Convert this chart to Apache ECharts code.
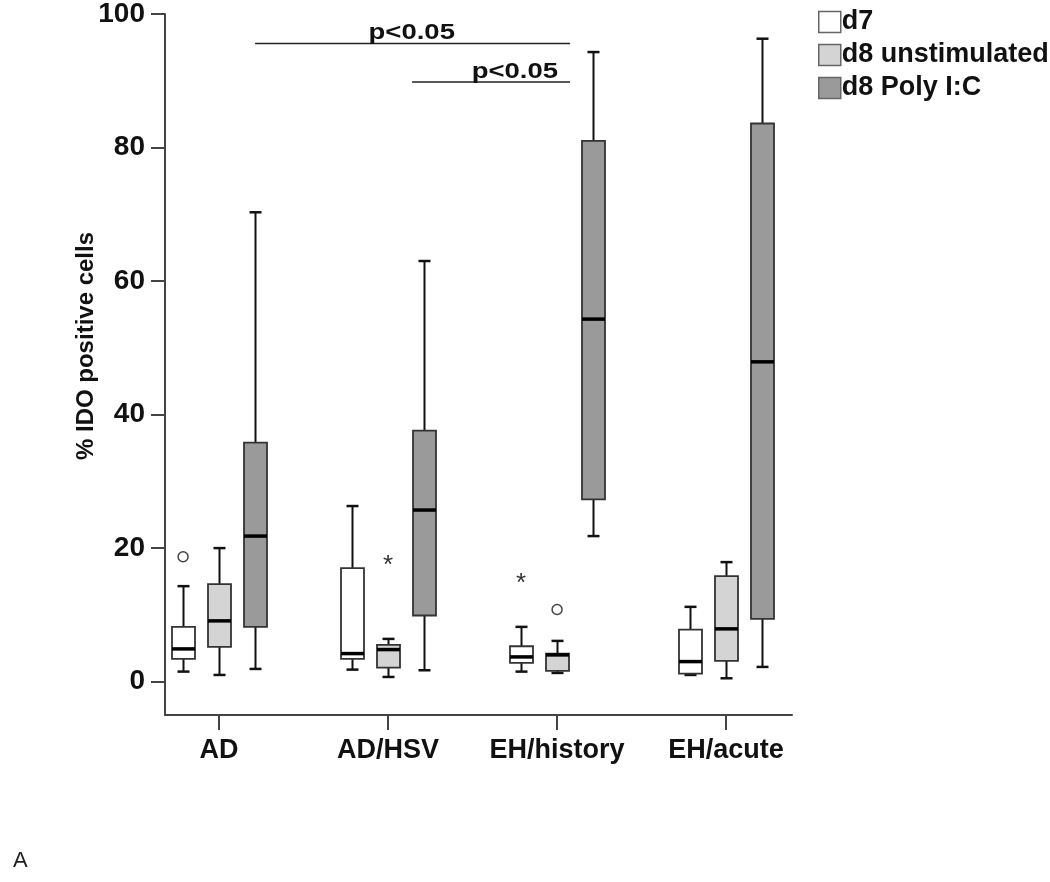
<!DOCTYPE html>
<html>
<head>
<meta charset="utf-8">
<script src="https://cdn.jsdelivr.net/npm/echarts@6/dist/echarts.min.js"></script>
<style>
  html, body { margin: 0; padding: 0; background: #fff; }
  #chart { width: 1050px; height: 882px; }
</style>
</head>
<body>
<div id="chart"></div>
<script>
const categories = ["AD", "AD/HSV", "EH/history", "EH/acute"];
const seriesNames = ["d7", "d8 unstimulated", "d8 Poly I:C"];
const yTicks = [0, 20, 40, 60, 80, 100];
const yTitle = "% IDO positive cells";

// [min, Q1, median, Q3, max] per category
const d7Boxes = [
  [1.5, 3.4, 4.9, 8.2, 14.3],
  [1.8, 3.4, 4.2, 17.0, 26.3],
  [1.5, 2.8, 3.7, 5.3, 8.2],
  [1.0, 1.2, 3.0, 7.8, 11.2]
];
const d8UnstimBoxes = [
  [1.0, 5.2, 9.1, 14.6, 20.0],
  [0.7, 2.1, 4.8, 5.5, 6.4],
  [1.3, 1.6, 4.0, 4.2, 6.1],
  [0.5, 3.1, 7.9, 15.8, 17.9]
];
const d8PolyBoxes = [
  [1.9, 8.2, 21.8, 35.8, 70.3],
  [1.7, 9.9, 25.7, 37.6, 63.0],
  [21.8, 27.3, 54.3, 81.0, 94.3],
  [2.2, 9.4, 47.9, 83.6, 96.3]
];

// outliers: [category index, value, marker]
const d7Outliers = [[0, 18.7, "o"], [2, 15.3, "*"]];
const d8UnstimOutliers = [[1, 17.9, "*"], [2, 10.8, "o"]];

// significance bars: [x start, x end, y, label x]
const sigBars = [
  [1.213, 3.077, 95.6, 2.14],
  [2.142, 3.077, 89.8, 2.75]
];
const sigLabel = "p<0.05";

const offsets = [-0.213, 0, 0.213];
const fills = ["#ffffff", "#d4d4d4", "#9a9a9a"];
const FONT = "'Liberation Sans', Arial, sans-serif";

function boxRenderer(offset) {
  return function (params, api) {
    const x = api.value(0) + 1 + offset;
    const pMin = api.coord([x, api.value(1)]);
    const pQ1 = api.coord([x, api.value(2)]);
    const pMed = api.coord([x, api.value(3)]);
    const pQ3 = api.coord([x, api.value(4)]);
    const pMax = api.coord([x, api.value(5)]);
    const cx = Math.round(pMed[0]) + 0.5;
    const hw = 11.5, cap = 6;
    const fill = api.visual("color");
    return {
      type: "group",
      children: [
        { type: "line", shape: { x1: cx, y1: pQ3[1], x2: cx, y2: pMax[1] }, style: { stroke: "#111", lineWidth: 2 } },
        { type: "line", shape: { x1: cx, y1: pQ1[1], x2: cx, y2: pMin[1] }, style: { stroke: "#111", lineWidth: 2 } },
        { type: "line", shape: { x1: cx - cap, y1: pMax[1], x2: cx + cap, y2: pMax[1] }, style: { stroke: "#111", lineWidth: 2.5 } },
        { type: "line", shape: { x1: cx - cap, y1: pMin[1], x2: cx + cap, y2: pMin[1] }, style: { stroke: "#111", lineWidth: 2.5 } },
        { type: "rect", shape: { x: cx - hw, y: pQ3[1], width: hw * 2, height: pQ1[1] - pQ3[1] }, style: { fill: fill, stroke: "#333", lineWidth: 1.8 } },
        { type: "line", shape: { x1: cx - hw, y1: pMed[1], x2: cx + hw, y2: pMed[1] }, style: { stroke: "#000", lineWidth: 3.5 } }
      ]
    };
  };
}

function outlierRenderer(offset, list) {
  return function (params, api) {
    const p = api.coord([api.value(0) + 1 + offset, api.value(1)]);
    const marker = list[params.dataIndex][2];
    if (marker === "o") {
      return { type: "circle", shape: { cx: p[0], cy: p[1], r: 5 }, style: { fill: "#fff", stroke: "#444", lineWidth: 1.5 } };
    }
    return {
      type: "text",
      x: p[0], y: p[1] + 4,
      style: { text: "*", fill: "#333", font: "26px " + FONT, align: "center", verticalAlign: "middle" }
    };
  };
}

const boxSets = [d7Boxes, d8UnstimBoxes, d8PolyBoxes];
const boxSeries = boxSets.map(function (set, s) {
  return {
    name: seriesNames[s],
    type: "custom",
    renderItem: boxRenderer(offsets[s]),
    itemStyle: { color: fills[s], borderColor: "#555" },
    encode: { x: 0, y: [1, 2, 3, 4, 5] },
    data: set.map(function (b, i) { return [i].concat(b); }),
    z: 2
  };
});

const chart = echarts.init(document.getElementById("chart"));
chart.setOption({
  animation: false,
  backgroundColor: "#fff",
  textStyle: { fontFamily: FONT },
  grid: { left: 165, right: 258, top: 11, bottom: 167 },
  legend: {
    orient: "vertical",
    left: 813,
    top: 3,
    itemWidth: 22,
    itemHeight: 21,
    itemGap: 5,
    icon: "rect",
    textStyle: { fontSize: 27, fontWeight: "bold", color: "#111", lineHeight: 28, padding: [0, 0, 0, -4] },
    data: seriesNames.map(function (n, i) {
      return { name: n, itemStyle: { color: fills[i], borderColor: "#666", borderWidth: 1.5 } };
    })
  },
  xAxis: {
    type: "value",
    min: 0.68,
    max: 4.39,
    splitLine: { show: false },
    axisLine: { onZero: false, lineStyle: { color: "#444", width: 2 } },
    axisTick: { customValues: [1, 2, 3, 4], length: 15, lineStyle: { color: "#444", width: 2 } },
    axisLabel: {
      customValues: [1, 2, 3, 4],
      margin: 22,
      fontSize: 27,
      fontWeight: "bold",
      color: "#111",
      formatter: function (v) { return categories[Math.round(v) - 1]; }
    }
  },
  yAxis: {
    type: "value",
    min: -5,
    max: 100,
    splitLine: { show: false },
    axisLine: { show: true, lineStyle: { color: "#444", width: 2 } },
    axisTick: { customValues: yTicks, length: 14, lineStyle: { color: "#444", width: 2 } },
    axisLabel: { customValues: yTicks, margin: 20, fontSize: 28, fontWeight: "bold", color: "#111" }
  },
  series: boxSeries.concat([
    {
      name: "o7",
      type: "custom",
      renderItem: outlierRenderer(offsets[0], d7Outliers),
      encode: { x: 0, y: 1 },
      data: d7Outliers.map(function (o) { return [o[0], o[1]]; }),
      z: 3
    },
    {
      name: "o8",
      type: "custom",
      renderItem: outlierRenderer(offsets[1], d8UnstimOutliers),
      encode: { x: 0, y: 1 },
      data: d8UnstimOutliers.map(function (o) { return [o[0], o[1]]; }),
      z: 3
    },
    {
      name: "sig",
      type: "custom",
      encode: { x: [0, 1, 3], y: 2 },
      data: sigBars,
      renderItem: function (params, api) {
        const a = api.coord([api.value(0), api.value(2)]);
        const b = api.coord([api.value(1), api.value(2)]);
        const l = api.coord([api.value(3), api.value(2)]);
        return {
          type: "group",
          children: [
            { type: "line", shape: { x1: a[0], y1: a[1], x2: b[0], y2: b[1] }, style: { stroke: "#222", lineWidth: 1.5 } },
            {
              type: "text", x: l[0], y: a[1] + 1, scaleX: 1.25, originX: 0, originY: 0,
              style: { text: sigLabel, fill: "#111", font: "bold 22px " + FONT, align: "center", verticalAlign: "bottom" }
            }
          ]
        };
      },
      z: 3
    }
  ]),
  graphic: [
    {
      type: "text", x: 86, y: 346, rotation: Math.PI / 2,
      style: { text: yTitle, fill: "#111", font: "bold 24px " + FONT, align: "center", verticalAlign: "middle" }
    },
    { type: "text", left: 13, top: 850, style: { text: "A", fill: "#222", font: "22px " + FONT } }
  ]
});
</script>
</body>
</html>
